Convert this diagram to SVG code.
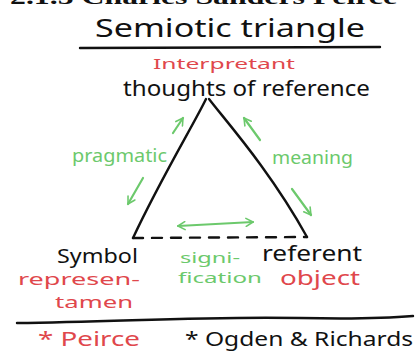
<svg xmlns="http://www.w3.org/2000/svg" width="416" height="352" viewBox="0 0 416 352">
<defs>
<marker id="ah" viewBox="0 0 10 10" refX="8" refY="5" markerWidth="4.5" markerHeight="4.5" orient="auto-start-reverse" markerUnits="strokeWidth">
<path d="M1,1 L8,5 L1,9" fill="none" stroke="#6cc96c" stroke-width="1.6" stroke-linecap="round" stroke-linejoin="round"/>
</marker>
</defs>
<style>
.hw{font-family:"Noto Sans","DejaVu Sans",sans-serif;font-weight:400}
.blk{fill:#111}
.red{fill:#e0474c}
.grn{fill:#6cc96c}
.edge{fill:none;stroke:#111;stroke-width:2.4;stroke-linecap:round;stroke-linejoin:round}
.ga{fill:none;stroke:#6cc96c;stroke-width:2.2;stroke-linecap:round;marker-end:url(#ah)}
</style>
<rect width="416" height="352" fill="#fff"/>
<text x="10" y="3.5" font-family="Liberation Serif,serif" font-weight="bold" font-size="22" fill="#111" textLength="387" lengthAdjust="spacingAndGlyphs">2.1.5 Charles Sanders Peirce</text>
<g id="title">
<text class="hw blk" x="95" y="37" font-size="25" textLength="270" lengthAdjust="spacingAndGlyphs">Semiotic triangle</text>
<path class="edge" d="M80,48 L380,47"/>
</g>
<g id="interpretant">
<text class="hw red" x="153" y="69" font-size="15" textLength="142" lengthAdjust="spacingAndGlyphs">Interpretant</text>
<text class="hw blk" x="123" y="96" font-size="22" textLength="247" lengthAdjust="spacingAndGlyphs">thoughts of reference</text>
</g>
<g id="symbol">
<text class="hw blk" x="57" y="263" font-size="20" textLength="81" lengthAdjust="spacingAndGlyphs">Symbol</text>
<text class="hw red" x="18" y="285" font-size="17" textLength="122" lengthAdjust="spacingAndGlyphs">represen-</text>
<text class="hw red" x="55" y="308" font-size="17" textLength="78" lengthAdjust="spacingAndGlyphs">tamen</text>
</g>
<g id="referent">
<text class="hw blk" x="262" y="261" font-size="21" textLength="100" lengthAdjust="spacingAndGlyphs">referent</text>
<text class="hw red" x="280" y="285" font-size="19" textLength="80" lengthAdjust="spacingAndGlyphs">object</text>
</g>
<g id="connectors">
<path class="edge" d="M206,99 C195,122 160,180 133,238"/>
<path class="edge" d="M209,99 C225,120 270,170 307,237"/>
<path class="edge" d="M133,238 L307,237" stroke-dasharray="10 9"/>
<path class="ga" d="M173,133 L183,118"/>
<path class="ga" d="M143,178 L128,204"/>
<path class="ga" d="M260,140 L244,118"/>
<path class="ga" d="M292,189 L311,215"/>
<path class="ga" d="M178,226 L253,222" marker-start="url(#ah)"/>
<text class="hw grn" x="72" y="162" font-size="18" textLength="95" lengthAdjust="spacingAndGlyphs">pragmatic</text>
<text class="hw grn" x="272" y="164" font-size="18" textLength="81" lengthAdjust="spacingAndGlyphs">meaning</text>
<text class="hw grn" x="180" y="263" font-size="15" textLength="60" lengthAdjust="spacingAndGlyphs">signi-</text>
<text class="hw grn" x="178" y="283" font-size="15" textLength="84" lengthAdjust="spacingAndGlyphs">fication</text>
</g>
<g id="legend">
<path class="edge" d="M17,323 C120,322 200,316 300,318 C350,319 390,318 413,316"/>
<text class="hw red" x="38" y="346" font-size="20" textLength="102" lengthAdjust="spacingAndGlyphs">* Peirce</text>
<text class="hw blk" x="185" y="346" font-size="20" textLength="228" lengthAdjust="spacingAndGlyphs">* Ogden &amp; Richards</text>
</g>
</svg>
